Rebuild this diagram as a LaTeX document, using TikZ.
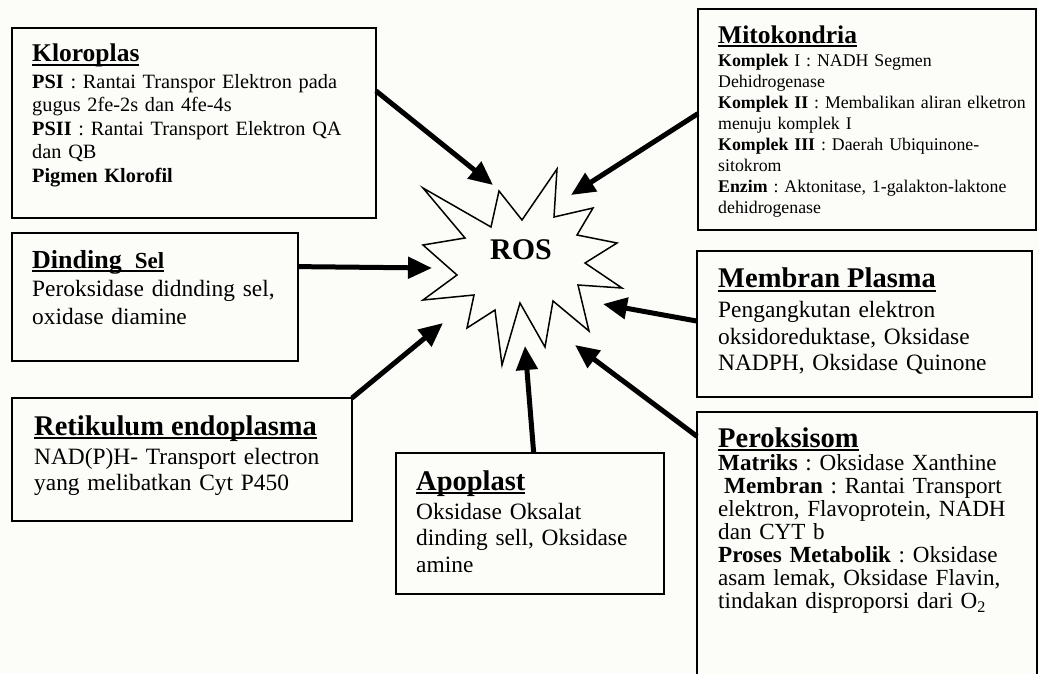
\documentclass[tikz,border=0pt]{standalone}
\usepackage{fontspec}
\setmainfont{Liberation Serif}
\usetikzlibrary{arrows.meta}
\definecolor{bg}{HTML}{FCFCF9}
\newcommand{\ulx}[1]{\setbox0=\hbox{#1}\rlap{\rule[-4pt]{\wd0}{2pt}}\box0}
\frenchspacing
\begin{document}
\begin{tikzpicture}[x=1pt,y=-1pt,
  box/.style={draw, line width=1.5pt, fill=bg, inner sep=0pt, outer sep=0pt, anchor=north west},
  ttl/.style={anchor=base west, inner sep=0pt, font=\bfseries\fontsize{28.5}{30}\selectfont},
  body/.style={anchor=base west, inner sep=0pt, align=left, text width=330pt},
  arr/.style={line width=5pt, -{Triangle[length=24pt,width=21pt]}},
  starline/.style={draw, line width=1.5pt, fill=bg, line join=miter}
]
\fill[bg] (0,0) rectangle (1039,673);
\useasboundingbox (0,0) rectangle (1039,673);
\clip (0,0) rectangle (1039,673);

% boxes
\node[box, minimum width=364pt, minimum height=190pt] (klo) at (12,28) {};
\node[box, minimum width=338pt, minimum height=221pt] (mito) at (698,9) {};
\node[box, minimum width=286pt, minimum height=128pt] (din) at (12,233) {};
\node[box, minimum width=340pt, minimum height=123pt] (ret) at (12,398) {};
\node[box, minimum width=335pt, minimum height=146pt] (mem) at (697,251) {};
\node[box, minimum width=268pt, minimum height=141pt] (apo) at (396,453) {};
\node[box, minimum width=340pt, minimum height=278pt] (per) at (697,412) {};

% star
\path[starline] (423,188) -- (491,227) -- (499,191) -- (522,220) -- (557,169) -- (554,217)
  -- (593,208) -- (577,235) -- (617,243) -- (585,263) -- (622,288) -- (578,285)
  -- (589,331) -- (553,301) -- (545,347) -- (520,303) -- (502,365) -- (495,310)
  -- (467,328) -- (474,295) -- (423,300) -- (457,275) -- (423,245) -- (465,238) -- cycle;
\node[inner sep=0pt, font=\bfseries\fontsize{30}{32}\selectfont] (ros) at (521,250) {ROS};

% arrow tips on the star
\coordinate (t1) at (493,185);
\coordinate (t2) at (571,195);
\coordinate (t3) at (432,268);
\coordinate (t4) at (603,304);
\coordinate (t5) at (443,323);
\coordinate (t6) at (525,346);
\coordinate (t7) at (575,345);

\draw[arr] (klo.10.9) -- (t1);
\draw[arr] (mito.178.5) -- (t2);
\draw[arr] (din.12.2) -- (t3);
\draw[arr] (mem.179.3) -- (t4);
\draw[arr] (ret.north east) -- (t5);
\draw[arr] (apo.87.6) -- (t6);
\draw[arr] (per.146.2) -- (t7);

% Kloroplas
\node[ttl, font=\bfseries\fontsize{25.5}{27}\selectfont] (klot) at (32,61.7) {\ulx{Kloroplas}};
\node[body, font=\fontsize{20.3}{23.5}\selectfont] (klob) at (32,88.3)
 {\textbf{PSI} : Rantai Transpor Elektron pada\\ gugus 2fe-2s dan 4fe-4s\\
  \textbf{PSII} : Rantai Transport Elektron QA\\ dan QB\\ \textbf{Pigmen Klorofil}};

% Mitokondria
\node[ttl, font=\bfseries\fontsize{25.5}{27}\selectfont] (mitot) at (718,43.3) {\ulx{Mitokondria}};
\node[body, font=\fontsize{17.8}{20.9}\selectfont] (mitob) at (718,66.7)
 {\textbf{Komplek} I : NADH Segmen\\ Dehidrogenase\\
  \textbf{Komplek II} : Membalikan aliran elketron\\ menuju komplek I\\
  \textbf{Komplek III} : Daerah Ubiquinone-\\ sitokrom\\
  \textbf{Enzim} : Aktonitase, 1-galakton-laktone\\ dehidrogenase};

% Dinding Sel
\node[ttl, font=\bfseries\fontsize{26}{28}\selectfont] (dint) at (32,268.3)
 {\ulx{Dinding\ \ \fontsize{23}{28}\selectfont Sel}};
\node[body, font=\fontsize{23.4}{28}\selectfont] (dinb) at (32,296)
 {Peroksidase didnding sel,\\ oxidase diamine};

% Membran Plasma
\node[ttl] (memt) at (718,287.7) {\ulx{Membran Plasma}};
\node[body, font=\fontsize{23.4}{26.7}\selectfont] (memb) at (718,317.3)
 {Pengangkutan elektron\\ oksidoreduktase, Oksidase\\ NADPH, Oksidase Quinone};

% Retikulum endoplasma
\node[ttl] (rett) at (34,435) {\ulx{Retikulum endoplasma}};
\node[body, font=\fontsize{23.4}{26.7}\selectfont] (retb) at (34,464)
 {NAD(P)H- Transport electron\\ yang melibatkan Cyt P450};

% Apoplast
\node[ttl] (apot) at (416,490) {\ulx{Apoplast}};
\node[body, font=\fontsize{23.4}{26.7}\selectfont] (apob) at (416,519)
 {Oksidase Oksalat\\ dinding sell, Oksidase\\ amine};

% Peroksisom
\node[ttl] (pert) at (718,447.3) {\ulx{Peroksisom}};
\node[body, font=\fontsize{23.1}{23.1}\selectfont] (perb) at (718,470)
 {\textbf{Matriks} : Oksidase Xanthine\\
  \hspace*{6pt}\textbf{Membran} : Rantai Transport\\
  elektron, Flavoprotein, NADH\\ dan CYT b\\
  \textbf{Proses Metabolik} : Oksidase\\
  asam lemak, Oksidase Flavin,\\
  tindakan disproporsi dari O\textsubscript{2}};
\end{tikzpicture}
\end{document}
